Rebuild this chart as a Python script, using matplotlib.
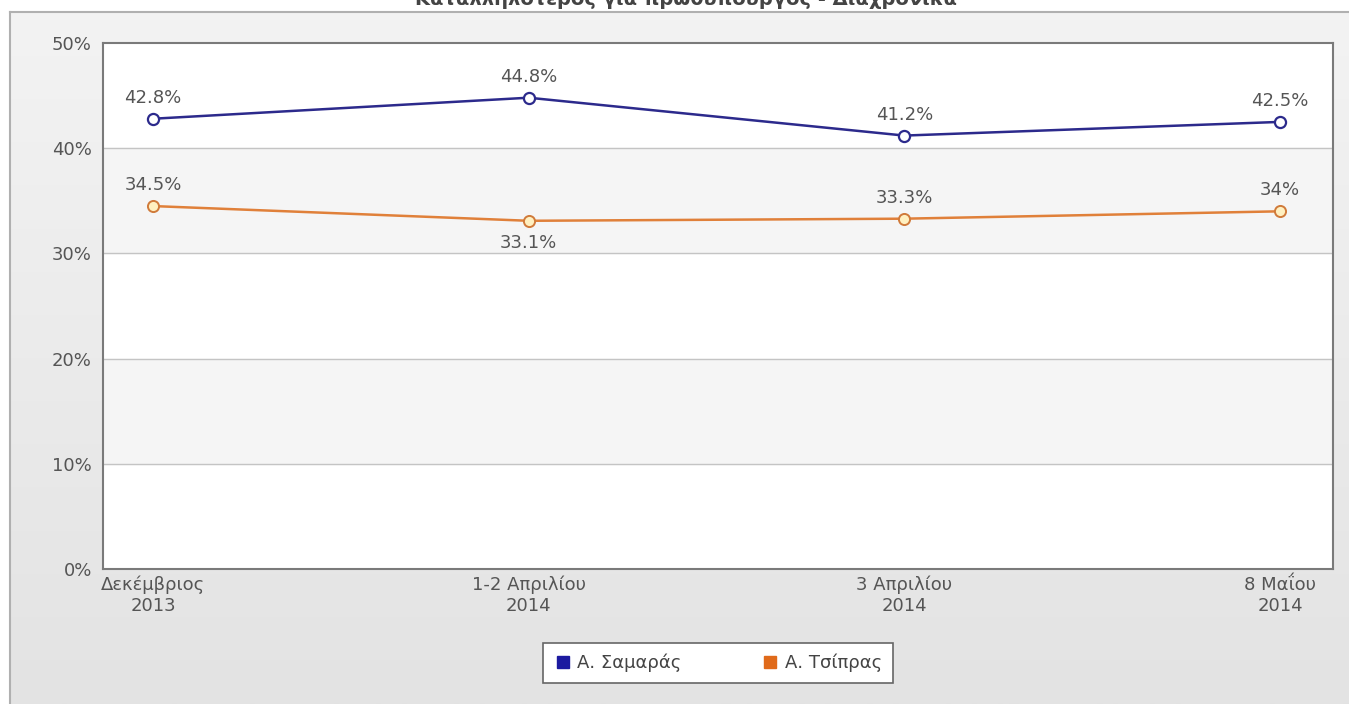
import numpy as np
import matplotlib
matplotlib.use("Agg")
from matplotlib import pyplot as plt
from matplotlib.lines import Line2D

# data
periods = ["Δεκέμβριος\n2013", "1-2 Απριλίου\n2014", "3 Απριλίου\n2014", "8 Μαΐου\n2014"]
samaras = [42.8, 44.8, 41.2, 42.5]
tsipras = [34.5, 33.1, 33.3, 34.0]
samaras_labels = ["42.8%", "44.8%", "41.2%", "42.5%"]
tsipras_labels = ["34.5%", "33.1%", "33.3%", "34%"]
tsipras_below = [False, True, False, False]
series_names = ["Α. Σαμαράς", "Α. Τσίπρας"]
y_ticks = [0, 10, 20, 30, 40, 50]

plt.rcParams["font.family"] = ["DejaVu Sans"]
text_gray = "#555555"
fs = 13

fig = plt.figure(figsize=(13.49, 7.04), dpi=100)
fig.patch.set_facecolor("white")

# outer gray panel with a soft vertical gradient
panel_top = 1 - 12 / 704
bg = fig.add_axes([10 / 1349, 0, 1 - 10 / 1349, panel_top])
grad = np.linspace(0, 1, 256).reshape(-1, 1)
bg.imshow(grad, aspect="auto", cmap=matplotlib.colors.LinearSegmentedColormap.from_list(
    "panel", ["#f3f3f3", "#e3e3e3"]), extent=[0, 1, 0, 1], origin="upper")
bg.set_xlim(0, 1)
bg.set_ylim(0, 1)
bg.set_xticks([])
bg.set_yticks([])
for side in ["right", "bottom"]:
    bg.spines[side].set_visible(False)
for side in ["left", "top"]:
    bg.spines[side].set_color("#b0b0b0")
    bg.spines[side].set_linewidth(1.5)

# title sits partly above the top edge, as in the source screenshot
fig.text(686 / 1349, 1 - 5 / 704, "Καταλληλότερος για πρωθυπουργός - Διαχρονικά",
         ha="center", va="baseline", fontsize=14, fontweight="bold", color="#444444")

ax = fig.add_axes([103 / 1349, 1 - 569 / 704, (1333 - 103) / 1349, (569 - 43) / 704])
ax.set_facecolor("white")
ax.set_xlim(-0.133, 3.141)
ax.set_ylim(0, 50)

# alternating bands and grid
for lo in [10, 30]:
    ax.axhspan(lo, lo + 10, color="#f5f5f5", zorder=0)
for yv in y_ticks[1:-1]:
    ax.axhline(yv, color="#c4c4c4", lw=1, zorder=1)

x = np.arange(len(periods))
ax.plot(x, samaras, color="#2c2a8c", lw=1.8, zorder=3,
        marker="o", ms=8, mfc="white", mec="#2c2a8c", mew=1.6)
ax.plot(x, tsipras, color="#e0803a", lw=1.8, zorder=3,
        marker="o", ms=8, mfc="#fff0c0", mec="#d07a3a", mew=1.4)

for xi, yv, lab in zip(x, samaras, samaras_labels):
    ax.annotate(lab, (xi, yv), xytext=(0, 21), textcoords="offset pixels",
                ha="center", va="center", fontsize=fs, color=text_gray)
for xi, yv, lab, below in zip(x, tsipras, tsipras_labels, tsipras_below):
    ax.annotate(lab, (xi, yv), xytext=(0, -22 if below else 21), textcoords="offset pixels",
                ha="center", va="center", fontsize=fs, color=text_gray)

ax.set_yticks(y_ticks)
ax.set_yticklabels([f"{v}%" for v in y_ticks], fontsize=fs, color=text_gray)
ax.set_xticks(x)
ax.set_xticklabels(periods, fontsize=fs, color=text_gray, linespacing=1.2)
ax.tick_params(axis="both", length=0)
ax.tick_params(axis="y", pad=8)
ax.tick_params(axis="x", pad=5)
for side in ax.spines:
    ax.spines[side].set_color("#7a7a7a")
    ax.spines[side].set_linewidth(1.5)

handles = [
    Line2D([], [], ls="none", marker="s", ms=9, mfc="#1c1aa0", mec="#1c1aa0"),
    Line2D([], [], ls="none", marker="s", ms=9, mfc="#e06a1a", mec="#e06a1a"),
]
leg = fig.legend(handles, series_names, loc="center", bbox_to_anchor=(718 / 1349, 1 - 663 / 704),
                 ncol=2, fontsize=fs, frameon=True, fancybox=False, columnspacing=4.4,
                 handletextpad=0.3, handlelength=1.0, borderpad=0.6, borderaxespad=0,
                 labelcolor="#444444", framealpha=1)
leg.get_frame().set_edgecolor("#666666")
leg.get_frame().set_linewidth(1.2)

fig.savefig("out.png", dpi=100)
